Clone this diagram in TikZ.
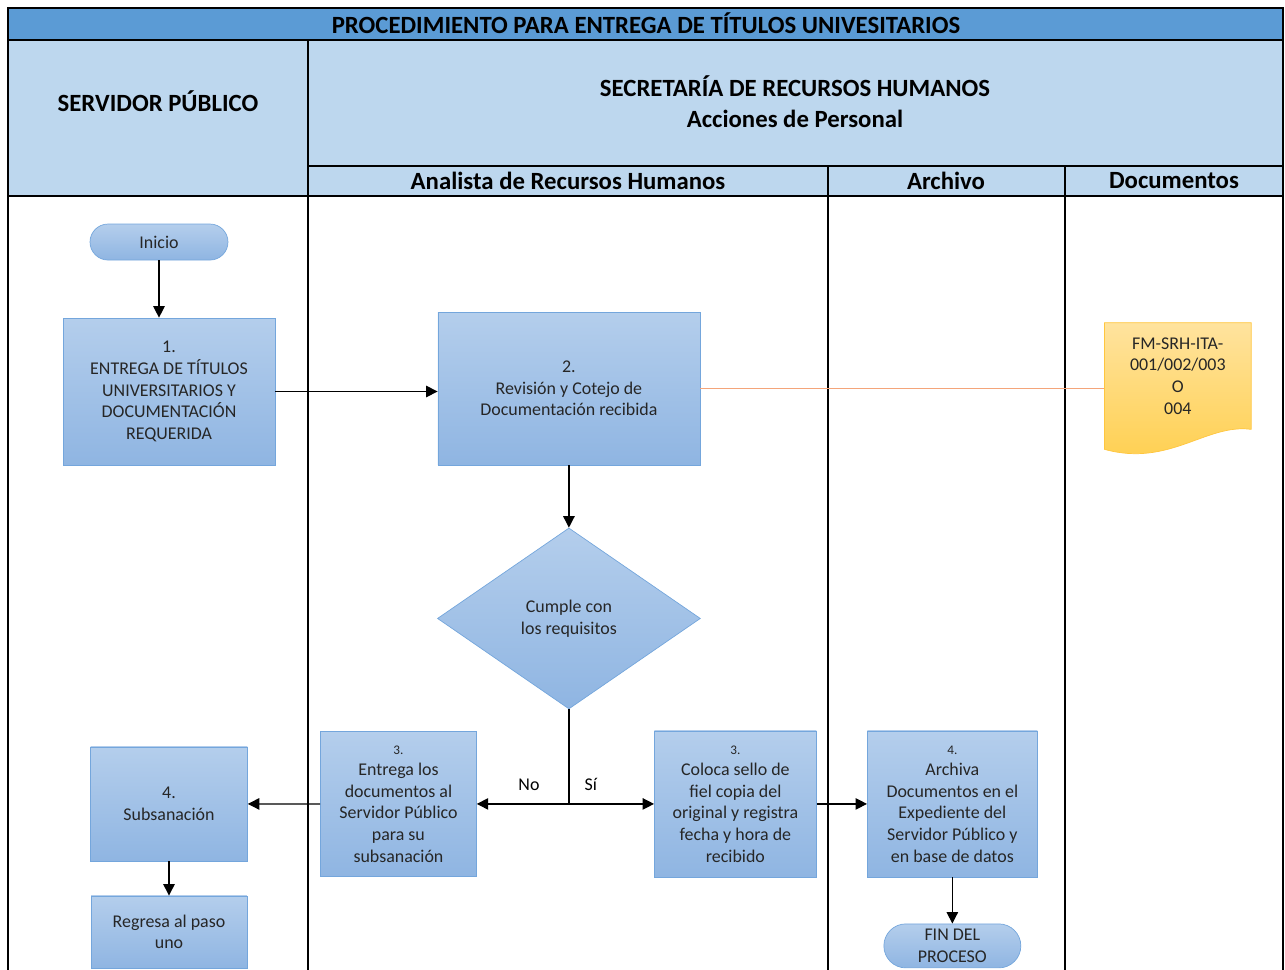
\documentclass[tikz,border=0pt]{standalone}
\usepackage{fontspec}
\setmainfont{Carlito}
\usepackage{xcolor}
\usepackage{tikz}
\usetikzlibrary{arrows.meta, shapes, backgrounds, positioning}
\definecolor{titleblue}{HTML}{5B9BD5}
\definecolor{headblue}{HTML}{BDD7EE}
\definecolor{boxtop}{HTML}{B4CEEC}
\definecolor{boxbottom}{HTML}{8FB5E2}
\definecolor{boxline}{HTML}{74A6DC}
\definecolor{doctop}{HTML}{FFE39E}
\definecolor{docbottom}{HTML}{FFCF4D}
\definecolor{docline}{HTML}{FFC63F}
\definecolor{docwire}{HTML}{F4A57A}
\definecolor{inktext}{HTML}{262626}
\newcommand{\boxfont}{\fontsize{10.2}{12.3}\selectfont}
\newcommand{\headfont}{\fontsize{14.1}{17.6}\selectfont\bfseries}
\newcommand{\smallnum}[1]{{\fontsize{7.5}{9}\selectfont #1}}
\tikzset{
    stepnode/.style = {draw=boxline, rectangle, top color=boxtop, bottom color=boxbottom,
      inner sep=0em, node distance=0em, font=\boxfont, text=inktext},
    roundnode/.style = {stepnode, rounded rectangle},
    decisionnode/.style = {stepnode, diamond, aspect=1.45},
    docnode/.style = {draw=none, fill=none, rectangle, inner sep=0em, node distance=0em,
      font=\boxfont, text=inktext},
    docshape/.style = {draw=docline, top color=doctop, bottom color=docbottom},
    headnode/.style = {draw=none, fill=none, inner sep=0em, font=\headfont},
    textnode/.style = {draw=none, fill=none, inner sep=0em, node distance=0em, font=\boxfont},
    lane/.style = {black, line width=1pt},
    connect/.style = {black, line width=0.7pt, -{Triangle[length=6.5pt, width=6.5pt]}},
    wire/.style = {docwire, line width=0.6pt},
    every text node part/.style={align=center}
}

\begin{document}
\begin{tikzpicture}[x=0.02cm, y=-0.02cm]
    \useasboundingbox (0,0) rectangle (1285,970);

    % swimlanes
    \fill[headblue] (8,40) rectangle (1283,196);
    \fill[titleblue] (8,8) rectangle (1283,40);
    \draw[lane] (8,8) rectangle (1283,40);
    \draw[lane] (8,40) -- (8,970) (1283,40) -- (1283,970) (308,40) -- (308,970)
        (828,166) -- (828,970) (1065,166) -- (1065,970)
        (308,166) -- (1283,166) (8,196) -- (1283,196);

    \node [name=title, headnode] at (646,23) {PROCEDIMIENTO PARA ENTREGA DE TÍTULOS UNIVESITARIOS};
    \node [name=servidor, headnode] at (158,101) {SERVIDOR PÚBLICO};
    \node [name=secretaria, headnode] at (795,102) {SECRETARÍA DE RECURSOS HUMANOS\\Acciones de Personal};
    \node [name=analista, headnode] at (568,181) {Analista de Recursos Humanos};
    \node [name=archivo, headnode] at (946,181) {Archivo};
    \node [name=documentos, headnode] at (1174,181) {Documentos};

    % flow
    \node [name=box1, stepnode, minimum width=4.24cm, minimum height=2.94cm] at (169,391.5)
        {1.\\ENTREGA DE TÍTULOS\\UNIVERSITARIOS Y\\DOCUMENTACIÓN\\REQUERIDA};
    \node [name=inicio, roundnode, minimum width=2.76cm, minimum height=0.72cm,
        above of = box1, xshift=-0.2cm, yshift=2.99cm] {Inicio};
    \node [name=box2, stepnode, minimum width=5.24cm, minimum height=3.06cm,
        right of = box1, xshift=8cm, yshift=0.06cm] {2.\\Revisión y Cotejo de\\Documentación recibida};
    \node [name=doc, docnode, minimum width=2.92cm, minimum height=2.12cm,
        right of = box1, xshift=20.18cm, yshift=0.31cm] {FM-SRH-ITA-\\001/002/003\\O\\004};
    \node [name=dia, decisionnode, minimum width=5.26cm, minimum height=3.62cm,
        below of = box2, yshift=-4.6cm] {Cumple con\\los requisitos};

    \node [name=boxno, stepnode, minimum width=3.12cm, minimum height=2.9cm,
        below of = dia, xshift=-3.41cm, yshift=-3.71cm]
        {\smallnum{3.}\\Entrega los\\documentos al\\Servidor Público\\para su\\subsanación};
    \node [name=boxsi, stepnode, minimum width=3.24cm, minimum height=2.92cm,
        below of = dia, xshift=3.33cm, yshift=-3.71cm]
        {\smallnum{3.}\\Coloca sello de\\fiel copia del\\original y registra\\fecha y hora de\\recibido};
    \node [name=archiva, stepnode, minimum width=3.4cm, minimum height=2.92cm,
        right of = boxsi, xshift=4.34cm]
        {\smallnum{4.}\\Archiva\\Documentos en el\\Expediente del\\Servidor Público y\\en base de datos};
    \node [name=fin, roundnode, minimum width=2.74cm, minimum height=0.88cm,
        below of = archiva, yshift=-2.84cm] {FIN DEL\\PROCESO};

    \node [name=subsan, stepnode, minimum width=3.14cm, minimum height=2.28cm,
        below of = box1, yshift=-8.25cm] {4.\\Subsanación};
    \node [name=regresa, stepnode, minimum width=3.12cm, minimum height=1.44cm,
        below of = subsan, yshift=-2.56cm] {Regresa al paso\\uno};

    \begin{scope}[on background layer]
        \shade[docshape] (doc.north west) -- (doc.north east) -- (doc.south east)
            .. controls ([shift={(-45,-6)}]doc.south east) and ([shift={(65,38)}]doc.south west)
            .. ([shift={(0,20)}]doc.south west) -- cycle;
    \end{scope}

    \coordinate (split) at (dia.south |- boxsi.west);
    \node [name=no, textnode, left of = split, xshift=-0.8cm, yshift=0.38cm] {No};
    \node [name=si, textnode, right of = split, xshift=0.44cm, yshift=0.38cm] {Sí};

    \draw [connect] (inicio.south) -- (inicio.south |- box1.north);
    \draw [connect] (box1.east) -- (box1.east -| box2.west);
    \draw [wire] (box2.east) -- (box2.east -| doc.west);
    \draw [connect] (box2.south) -- (dia.north);
    \draw [black, line width=0.7pt] (dia.south) -- (split);
    \draw [connect] (split) -- (boxno.east);
    \draw [connect] (split) -- (boxsi.west);
    \draw [connect] (boxno.west) -- (subsan.east);
    \draw [connect] (boxsi.east) -- (archiva.west);
    \draw [connect] (subsan.south) -- (regresa.north);
    \draw [connect] (archiva.south) -- (fin.north);
\end{tikzpicture}
\end{document}
